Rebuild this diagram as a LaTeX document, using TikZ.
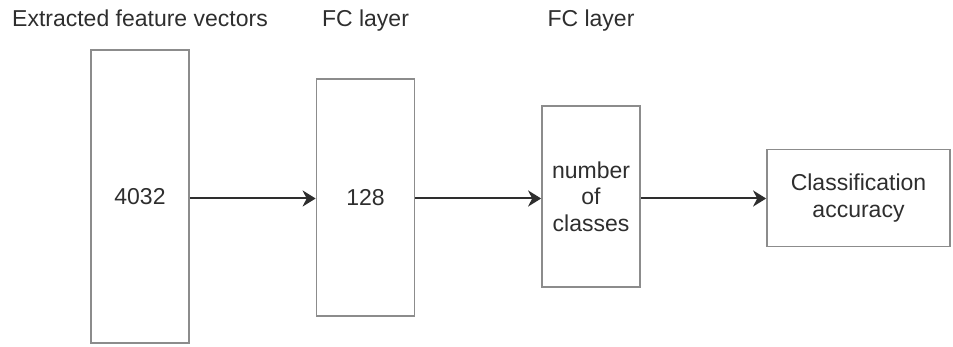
\documentclass[tikz,border=0pt]{standalone}
\usepackage{fontspec}
\setmainfont{Liberation Sans}
\usetikzlibrary{arrows.meta}

\definecolor{boxgray}{HTML}{8C8C8C}
\definecolor{inkgray}{HTML}{2E2E2E}

\tikzset{
	layer/.style={draw=boxgray, line width=1.7pt, inner sep=0pt, align=center,
		text=inkgray, font=\fontsize{23}{26.5}\selectfont},
	caption/.style={text=inkgray, anchor=base, font=\fontsize{23}{26}\selectfont},
	flow/.style={->, draw=inkgray, line width=2pt}
}

\begin{document}
\begin{tikzpicture}[x=1pt, y=-1pt, >={Stealth[length=13pt, width=16pt, inset=4pt]}]
		\useasboundingbox (0,0) rectangle (953,347);
		%% The Layers
		\node[layer, minimum width=98pt, minimum height=293pt] (feat) at (140,196.5) {4032};
		\node[layer, minimum width=98pt, minimum height=237pt] (fc1) at (365.5,197.5) {128};
		\node[layer, minimum width=98pt, minimum height=181pt] (fc2) at (591,196.5) {number\\of\\classes};
		\node[layer, minimum width=183pt, minimum height=97pt] (acc) at (858.5,198) {Classification\\accuracy};
		%% The Captions
		\node[caption] (featcap) at (feat.north |- 0,26.5) {Extracted feature vectors};
		\node[caption] (fc1cap) at (fc1.north |- 0,26.5) {FC layer};
		\node[caption] (fc2cap) at (fc2.north |- 0,26.5) {FC layer};
		%% The Arrows
		\draw[flow] (feat.east |- 0,198.5) -- (fc1.west |- 0,198.5);
		\draw[flow] (fc1.east |- 0,198.5) -- (fc2.west |- 0,198.5);
		\draw[flow] (fc2.east |- 0,198.5) -- (acc.west |- 0,198.5);
	\end{tikzpicture}
\end{document}
